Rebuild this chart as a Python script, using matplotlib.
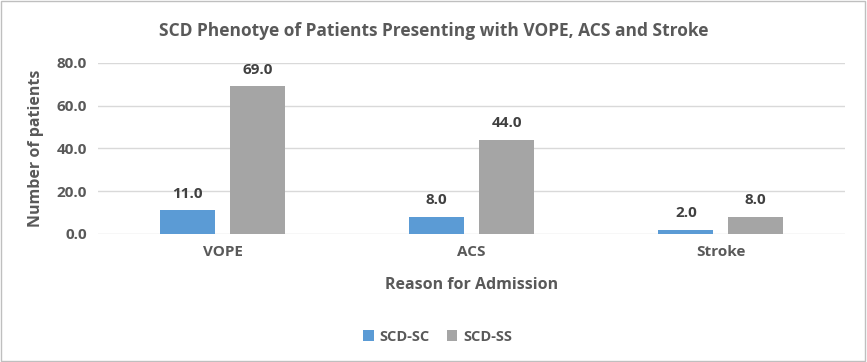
import matplotlib
matplotlib.use("Agg")
import matplotlib.pyplot as plt
import numpy as np

# data
reasons = ["VOPE", "ACS", "Stroke"]
scd_sc = [11.0, 8.0, 2.0]
scd_ss = [69.0, 44.0, 8.0]
series_names = ["SCD-SC", "SCD-SS"]
yticks = [0, 20, 40, 60, 80]

plt.rcParams['font.family'] = ['Open Sans', 'DejaVu Sans']
txt = '#595959'

fig = plt.figure(figsize=(8.67, 3.62), dpi=100)
ax = fig.add_axes([0.113, 0.354, 0.862, 0.472])

x = np.arange(len(reasons))
w = 0.22
b1 = ax.bar(x - 0.14, scd_sc, w, color='#5B9BD5', label=series_names[0], zorder=3)
b2 = ax.bar(x + 0.14, scd_ss, w, color='#A5A5A5', label=series_names[1], zorder=3)

for bars in (b1, b2):
    for r in bars:
        ax.annotate(f"{r.get_height():.1f}", (r.get_x() + r.get_width() / 2, r.get_height()),
                    xytext=(0, 7), textcoords='offset points', ha='center', va='bottom',
                    fontsize=11, fontweight='bold', color='#404040')

ax.set_xlim(-0.5, 2.5)
ax.set_ylim(0, 80)
ax.set_yticks(yticks)
ax.set_yticklabels([f"{v:.1f}" for v in yticks])
ax.set_xticks(x)
ax.set_xticklabels(reasons)
ax.tick_params(length=0, labelsize=11, labelcolor=txt, pad=8)
for lab in ax.get_xticklabels() + ax.get_yticklabels():
    lab.set_fontweight('bold')
ax.grid(axis='y', color='#D9D9D9', linewidth=1, zorder=0)
for s in ax.spines.values():
    s.set_visible(False)

ax.set_xlabel("Reason for Admission", fontsize=11.5, fontweight='bold', color=txt, labelpad=13)
ax.set_ylabel("Number of patients", fontsize=11.5, fontweight='bold', color=txt, labelpad=9)
fig.text(0.5, 0.915, "SCD Phenotye of Patients Presenting with VOPE, ACS and Stroke",
         ha='center', va='center', fontsize=12.5, fontweight='bold', color=txt)

leg = fig.legend(loc='center', bbox_to_anchor=(0.505, 0.07), ncol=2, frameon=False,
                 handlelength=0.7, handleheight=0.7, handletextpad=0.4, columnspacing=1.2,
                 prop={'size': 10.5, 'weight': 'bold'})
for t in leg.get_texts():
    t.set_color(txt)

fig.patches.append(plt.Rectangle((0.001, 0.002), 0.997, 0.995, transform=fig.transFigure,
                                 fill=False, edgecolor='#BFBFBF', linewidth=1))

fig.savefig("out.png", dpi=100)
